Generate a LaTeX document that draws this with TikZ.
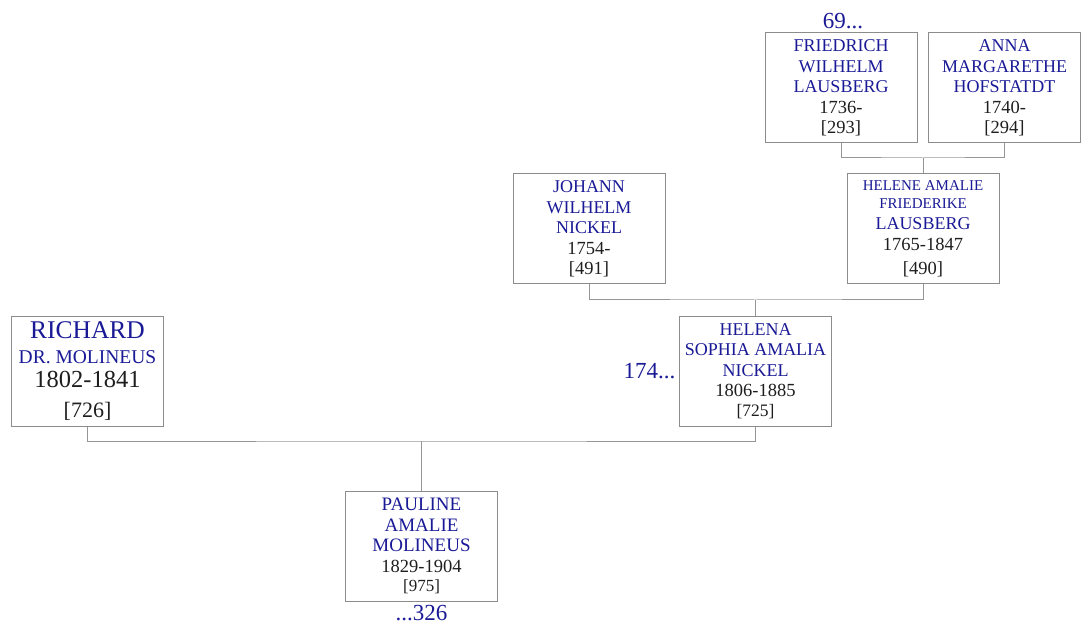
\documentclass[tikz,border=0pt]{standalone}
\usepackage{fontspec}
\setmainfont{Liberation Serif}
\usetikzlibrary{positioning}

\definecolor{nameblue}{RGB}{26,26,150}
\definecolor{boxgray}{RGB}{140,140,140}
\definecolor{linegray}{RGB}{150,150,150}
\definecolor{datetext}{RGB}{30,30,30}

% one line of a name, one line of dates
\newcommand{\nm}[2][18]{{\fontsize{#1}{#1}\selectfont\color{nameblue}#2}}
\newcommand{\dt}[2][18.5]{{\fontsize{#1}{#1}\selectfont\color{datetext}#2}}

\begin{document}
\begin{tikzpicture}[x=1pt, y=-1pt,
    person/.style={draw=boxgray, line width=1pt, rectangle,
      minimum width=152pt, minimum height=110pt, inner sep=0pt,
      align=center, font=\fontsize{18}{20.5}\selectfont},
    link/.style={draw=linegray, line width=1pt},
    more/.style={text=nameblue, font=\fontsize{23}{23}\selectfont}]
  \useasboundingbox (0,0) rectangle (1084,628);

  % grandparents of Helene
  \node[person] (fw) at (841,88)
    {\nm{FRIEDRICH}\\ \nm{WILHELM}\\ \nm{LAUSBERG}\\ \dt{1736-}\\ \dt{[293]}};
  \node[person] (am) at (1004.5,88)
    {\nm{ANNA}\\ \nm{MARGARETHE}\\ \nm{HOFSTATDT}\\ \dt{1740-}\\ \dt{[294]}};

  % parents of Helena
  \node[person] (jw) at (589,229)
    {\nm{JOHANN}\\ \nm{WILHELM}\\ \nm{NICKEL}\\ \dt{1754-}\\ \dt{[491]}};
  \node[person] (ha) at (923,229)
    {\nm[15]{HELENE AMALIE}\\[-2.5pt] \nm[15]{FRIEDERIKE}\\[0pt] \nm{LAUSBERG}\\[1pt]
     \dt{1765-1847}\\[3.5pt] \dt{[490]}};

  % parents of Pauline
  \node[person] (rm) at (87.5,371)
    {\nm[25.5]{RICHARD}\\[4.5pt] \nm[19.5]{DR. MOLINEUS}\\[3.5pt] \dt[24.5]{1802-1841}\\[9pt]
     \dt[22]{[726]}};
  \node[person] (hs) at (755.5,371)
    {\nm{HELENA}\\ \nm{SOPHIA AMALIA}\\ \nm{NICKEL}\\ \dt{1806-1885}\\[-1pt] \dt[17.5]{[725]}};

  % child
  \node[person] (pm) at (421.5,546)
    {\nm[19]{PAULINE}\\ \nm[19]{AMALIE}\\ \nm[19]{MOLINEUS}\\ \dt{1829-1904}\\[-1pt] \dt[17]{[975]}};

  % references to other pages
  \node[more, above=0pt of fw, xshift=2pt] (fwmore) {69...};
  \node[more, left=0pt of hs] (hsmore) {174...};
  \node[more, below=0pt of pm] (pmmore) {...326};

  % family connectors
  \coordinate (j1) at (923,158);
  \coordinate (j2) at (755.5,300);
  \coordinate (j3) at (421.5,441);
  \draw[link] (fw.south) |- (j1) -| (am.south);
  \draw[link] (j1) -- (ha.north);
  \draw[link] (jw.south) |- (j2) -| (ha.south);
  \draw[link] (j2) -- (hs.north);
  \draw[link] (rm.south) |- (j3) -| (hs.south);
  \draw[link] (j3) -- (pm.north);
\end{tikzpicture}
\end{document}
